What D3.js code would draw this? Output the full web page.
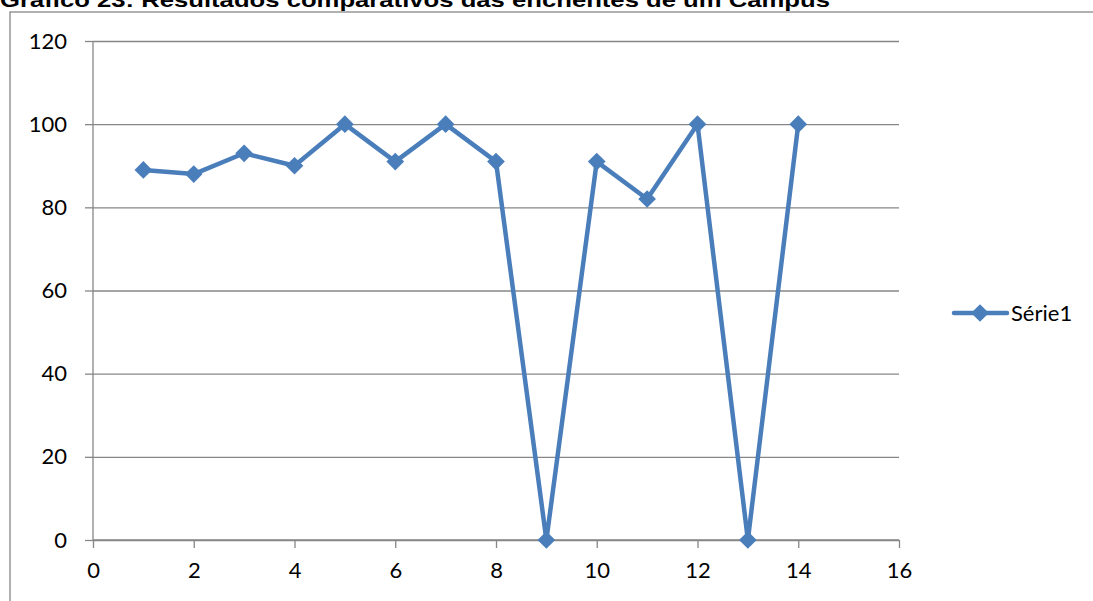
<!DOCTYPE html>
<html>
<head>
<meta charset="utf-8">
<script src="https://cdn.jsdelivr.net/npm/d3@7"></script>
<style>
html,body{margin:0;padding:0;background:#fff;overflow:hidden;}
svg{display:block;}
</style>
</head>
<body>
<svg id="chart" width="1093" height="601"></svg>
<script>
const title = "Gráfico 23: Resultados comparativos das enchentes de um Campus";
const seriesName = "Série1";
const xValues = [1, 2, 3, 4, 5, 6, 7, 8, 9, 10, 11, 12, 13, 14];
const yValues = [89, 88, 93, 90, 100, 91, 100, 91, 0, 91, 82, 100, 0, 100];
const xTicks = [0, 2, 4, 6, 8, 10, 12, 14, 16];
const yTicks = [0, 20, 40, 60, 80, 100, 120];

const svg = d3.select("#chart");
const blue = "#4a7ebb";
const gridCol = "#878787";
const font = "Lato, 'Open Sans', sans-serif";

// chart frame (extends past the right/bottom of the view)
svg.append("rect").attr("x", 10).attr("y", 12).attr("width", 1200).attr("height", 700)
  .attr("fill", "none").attr("stroke", gridCol).attr("stroke-width", 1.3);

// title (partly cut at top)
svg.append("text").attr("x", 0).attr("y", 7)
  .attr("font-family", "'Liberation Sans', Arial, sans-serif")
  .attr("font-weight", "bold").attr("font-size", 21)
  .attr("textLength", 830).attr("lengthAdjust", "spacingAndGlyphs")
  .attr("fill", "#000").text(title);

const x = d3.scaleLinear().domain([0, 16]).range([93, 899]);
const y = d3.scaleLinear().domain([0, 120]).range([540, 41]);

// horizontal gridlines
const gy = svg.append("g").attr("transform", "translate(93,0)")
  .call(d3.axisLeft(y).tickValues(yTicks).tickSize(8).tickFormat(d => d).tickPadding(18));
gy.selectAll(".tick line").clone().attr("x1", 0).attr("x2", 899 - 93);
gy.selectAll("line").attr("stroke", gridCol).attr("stroke-width", 1.3);
gy.select(".domain").attr("stroke", gridCol).attr("stroke-width", 1.3).attr("d", "M0,41V540");
gy.selectAll("text").attr("font-family", font).attr("font-size", 22).attr("fill", "#000");

const gx = svg.append("g").attr("transform", "translate(0,540)")
  .call(d3.axisBottom(x).tickValues(xTicks).tickSize(8).tickFormat(d => d).tickPadding(14));
gx.selectAll("line").attr("stroke", gridCol).attr("stroke-width", 1.3);
gx.select(".domain").attr("stroke", gridCol).attr("stroke-width", 1.3).attr("d", "M93,0H899");
gx.selectAll("text").attr("font-family", font).attr("font-size", 22).attr("fill", "#000");

const data = xValues.map((v, i) => ({x: v, y: yValues[i]}));
const line = d3.line().x(d => x(d.x)).y(d => y(d.y));
svg.append("path").datum(data).attr("d", line)
  .attr("fill", "none").attr("stroke", blue).attr("stroke-width", 4.5)
  .attr("stroke-linejoin", "round").attr("stroke-linecap", "round");

const diamond = d3.symbol().type(d3.symbolDiamond2).size(200);
svg.append("g").selectAll("path").data(data).join("path")
  .attr("d", diamond)
  .attr("transform", d => `translate(${x(d.x)},${y(d.y)})`)
  .attr("fill", blue);

// legend
const lg = svg.append("g");
lg.append("line").attr("x1", 954).attr("x2", 1007).attr("y1", 313).attr("y2", 313)
  .attr("stroke", blue).attr("stroke-width", 4.5).attr("stroke-linecap", "round");
lg.append("path").attr("d", diamond).attr("transform", "translate(980,313)").attr("fill", blue);
lg.append("text").attr("x", 1011).attr("y", 321).attr("font-family", font)
  .attr("font-size", 22).attr("fill", "#000").text(seriesName);
</script>
</body>
</html>
